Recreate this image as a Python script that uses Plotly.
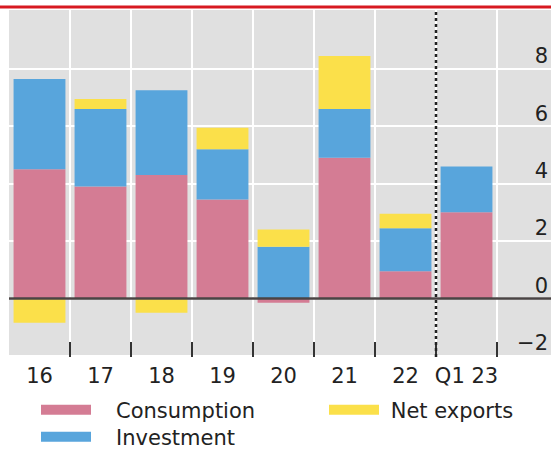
import plotly.graph_objects as go

categories = ["16", "17", "18", "19", "20", "21", "22", "Q1 23"]
consumption = [4.5, 3.9, 4.3, 3.45, -0.15, 4.9, 0.95, 3.0]
investment = [3.15, 2.7, 2.95, 1.75, 1.8, 1.7, 1.5, 1.6]
net_exports = [-0.85, 0.35, -0.5, 0.75, 0.6, 1.85, 0.5, 0.0]
y_tick_vals = [-2, 0, 2, 4, 6, 8]
y_tick_text = ["\u22122", "0", "2", "4", "6", "8"]

PINK = "#d47c94"
BLUE = "#58a5dc"
YELLOW = "#fbe04a"
FONT = "DejaVu Sans"

W, H = 551, 450
ML, MR, MT, MB = 9, 0, 10, 93
PW, PH = W - ML - MR, H - MT - MB

def px_x(p):
    return (p - ML) / PW

def px_y(p):
    return (H - MB - p) / PH

NB = "\u00a0"

fig = go.Figure()
series = [("Consumption", consumption, PINK, "legend", NB * 3),
          ("Investment", investment, BLUE, "legend2", NB * 3),
          ("Net exports", net_exports, YELLOW, "legend3", NB)]
for name, vals, col, lg, pad in series:
    fig.add_trace(go.Bar(x=categories, y=vals, name=name, marker=dict(color=col, line=dict(width=0)),
                         showlegend=False, legendgroup=name))
for name, vals, col, lg, pad in series:
    fig.add_trace(go.Scatter(x=[None], y=[None], mode="lines", name=pad + name,
                             line=dict(color=col, width=10), legend=lg, legendgroup=name,
                             showlegend=True, hoverinfo="skip"))

legend_common = dict(font=dict(family=FONT, size=21, color="#222"), bgcolor="rgba(0,0,0,0)",
                     itemwidth=50, xanchor="left", yanchor="middle", borderwidth=0, itemclick=False)

fig.update_layout(
    width=W, height=H,
    margin=dict(l=ML, r=MR, t=MT, b=MB, autoexpand=False),
    paper_bgcolor="white", plot_bgcolor="#e0e0e0",
    barmode="relative", bargap=0.15,
    font=dict(family=FONT, size=21, color="#222"),
    xaxis=dict(type="category", range=[-0.5, -0.5 + PW / 61.0], tickson="boundaries",
               showgrid=True, gridcolor="white", gridwidth=2, ticks="inside", ticklen=15,
               tickwidth=2, tickcolor="#333", showline=False, zeroline=False, tickangle=0,
               ticklabelstandoff=4,
               tickfont=dict(family=FONT, size=21, color="#222")),
    yaxis=dict(range=[-2.04, 10.05], side="right", tickvals=y_tick_vals, ticktext=y_tick_text,
               ticklabelposition="inside", ticklabelshift=-13, showgrid=True, gridcolor="white",
               gridwidth=2, zeroline=False, showline=False, ticks="",
               tickfont=dict(family=FONT, size=21, color="#222")),
    legend=dict(x=px_x(36), y=px_y(410), **legend_common),
    legend2=dict(x=px_x(36), y=px_y(437), **legend_common),
    legend3=dict(x=px_x(324), y=px_y(410), **legend_common),
    shapes=[
        dict(type="line", xref="paper", yref="y", x0=0, x1=1, y0=0, y1=0,
             line=dict(color="#4a4444", width=2.5), layer="above"),
        dict(type="line", xref="x", yref="paper", x0=6.5, x1=6.5, y0=0, y1=1,
             line=dict(color="#222", width=2.5, dash="dot"), layer="above"),
        dict(type="line", xref="paper", yref="paper", x0=px_x(0), x1=1, y0=px_y(7), y1=px_y(7),
             line=dict(color="#d71a21", width=3)),
    ],
)

fig.write_html("out.html")
